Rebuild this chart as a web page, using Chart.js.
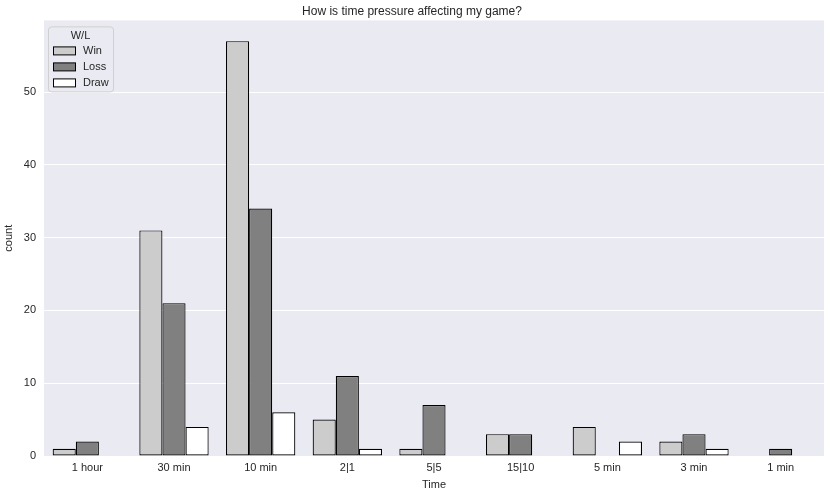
<!DOCTYPE html>
<html>
<head>
<meta charset="utf-8">
<script src="https://cdn.jsdelivr.net/npm/chart.js@4"></script>
<style>
  html, body { margin: 0; padding: 0; background: #fff; }
  #wrap { width: 831px; height: 496px; }
</style>
</head>
<body>
<div id="wrap"><canvas id="chart" width="831" height="496"></canvas></div>
<script>
const categories = ['1 hour', '30 min', '10 min', '2|1', '5|5', '15|10', '5 min', '3 min', '1 min'];
const winCounts = [1, 31, 57, 5, 1, 3, 4, 2, null];
const lossCounts = [2, 21, 34, 11, 7, 3, null, 3, 1];
const drawCounts = [null, 4, 6, 1, null, null, 2, 1, null];
const yTicks = [0, 10, 20, 30, 40, 50];

const FONT = '"Liberation Sans", Arial, sans-serif';
const TEXT = '#262626';

const seriesStyle = [
    { label: 'Win', data: winCounts, color: '#cccccc' },
    { label: 'Loss', data: lossCounts, color: '#808080' },
    { label: 'Draw', data: drawCounts, color: '#ffffff' },
];

// seaborn-like background behind the plot area
const plotBg = {
    id: 'plotBg',
    beforeDraw(chart) {
        const { ctx, chartArea: a } = chart;
        ctx.save();
        ctx.fillStyle = '#eaeaf2';
        ctx.fillRect(a.left, a.top, a.right - a.left, a.bottom - a.top);
        ctx.restore();
    }
};

// legend drawn inside the plot, top-left, with title
const innerLegend = {
    id: 'innerLegend',
    afterDraw(chart) {
        const { ctx, chartArea: a } = chart;
        const x = a.left + 4, y = a.top + 6, w = 65, h = 65, r = 3;
        ctx.save();
        ctx.fillStyle = 'rgba(234,234,242,0.8)';
        ctx.strokeStyle = '#d0d0d0';
        ctx.lineWidth = 1;
        ctx.beginPath();
        ctx.roundRect(x + 0.5, y + 0.5, w, h, r);
        ctx.fill();
        ctx.stroke();
        ctx.fillStyle = TEXT;
        ctx.font = '11px ' + FONT;
        ctx.textBaseline = 'middle';
        ctx.textAlign = 'center';
        ctx.fillText('W/L', x + w / 2, y + 10);
        ctx.textAlign = 'left';
        seriesStyle.forEach((s, i) => {
            const ry = y + 24 + i * 16;
            ctx.fillStyle = s.color;
            ctx.fillRect(x + 5.5, ry - 3.5, 22, 8);
            ctx.strokeStyle = '#000';
            ctx.strokeRect(x + 5.5, ry - 3.5, 22, 8);
            ctx.fillStyle = TEXT;
            ctx.fillText(s.label, x + 35, ry + 1);
        });
        ctx.restore();
    }
};

new Chart(document.getElementById('chart'), {
    type: 'bar',
    data: {
        labels: categories,
        datasets: seriesStyle.map(s => ({
            label: s.label,
            data: s.data,
            backgroundColor: s.color,
            borderColor: '#000000',
            borderWidth: 1.2,
            borderSkipped: false,
            categoryPercentage: 0.8,
            barPercentage: 1.0,
        })),
    },
    options: {
        responsive: false,
        animation: false,
        layout: { padding: { left: 0, right: 7, top: 0, bottom: 0 } },
        plugins: {
            legend: { display: false },
            tooltip: { enabled: false },
            title: {
                display: true,
                text: 'How is time pressure affecting my game?',
                color: TEXT,
                font: { family: FONT, size: 12, weight: 'normal' },
                padding: { top: 4, bottom: 2 },
            },
        },
        scales: {
            x: {
                grid: { display: false, drawTicks: false },
                border: { display: false },
                ticks: { color: TEXT, font: { family: FONT, size: 11 }, padding: 5 },
                title: {
                    display: true, text: 'Time', color: TEXT,
                    font: { family: FONT, size: 11 }, padding: { top: 2, bottom: 4 },
                },
                afterFit(scale) { scale.height = 40; },
            },
            y: {
                min: 0,
                max: 59.85,
                afterBuildTicks(scale) { scale.ticks = yTicks.map(v => ({ value: v })); },
                grid: { color: '#ffffff', lineWidth: 1, drawTicks: false },
                border: { display: false },
                ticks: { color: TEXT, font: { family: FONT, size: 11 }, padding: 8 },
                title: {
                    display: true, text: 'count', color: TEXT,
                    font: { family: FONT, size: 11 }, padding: { top: 2, bottom: 4 },
                },
                afterFit(scale) { scale.width = 44; },
            },
        },
    },
    plugins: [plotBg, innerLegend],
});
</script>
</body>
</html>
